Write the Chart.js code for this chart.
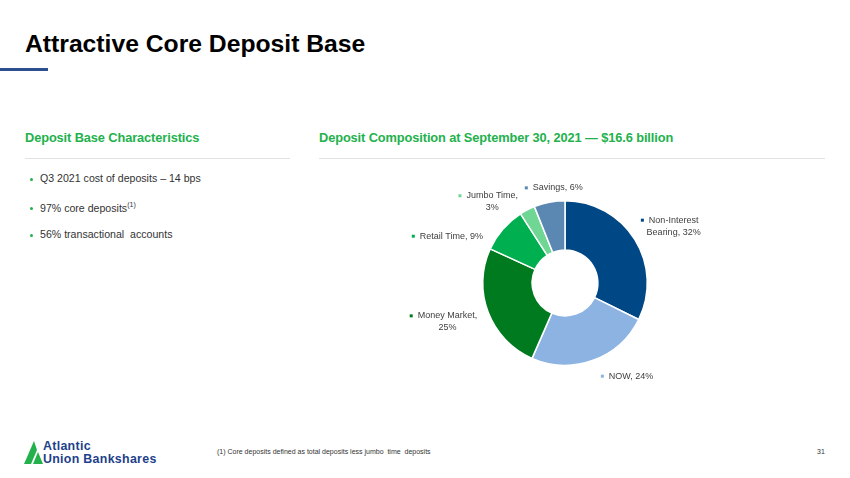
<!DOCTYPE html>
<html>
<head>
<meta charset="utf-8">
<script src="https://cdn.jsdelivr.net/npm/chart.js@4/dist/chart.umd.min.js"></script>
<style>
  html, body { margin: 0; padding: 0; background: #fff; }
  body { width: 850px; height: 478px; position: relative; overflow: hidden; font-family: "Liberation Sans", Arial, sans-serif; }
  .abs { position: absolute; white-space: nowrap; }
  .title { left: 25px; top: 30px; font-size: 24.7px; font-weight: bold; color: #000; }
  .rule-blue { left: 0; top: 68px; width: 48px; height: 3px; background: #2b4f8f; }
  .head { top: 130px; font-size: 12.8px; font-weight: bold; color: #22b14c; letter-spacing: -0.1px; }
  .sep { top: 158px; height: 1px; background: #e2e2e2; }
  .bullet { left: 40px; font-size: 10.6px; color: #333; }
  .bullet::before { content: ""; position: absolute; left: -10px; top: 6px; width: 3px; height: 3px; border-radius: 50%; background: #22b14c; }
  .bullet sup { font-size: 7px; }
  .foot { top: 448px; font-size: 7px; color: #333; }
  .logo-text { left: 43px; font-size: 12.4px; font-weight: bold; color: #1e3f8a; line-height: 11px; height: 11px; letter-spacing: 0.3px; }
  #wrap { position: absolute; left: 400px; top: 175px; width: 330px; height: 216px; }
</style>
</head>
<body>
<div class="abs title">Attractive Core Deposit Base</div>
<div class="abs rule-blue"></div>

<div class="abs head" style="left:25px">Deposit Base Characteristics</div>
<div class="abs head" style="left:319px">Deposit Composition at September 30, 2021 — $16.6 billion</div>
<div class="abs sep" style="left:25px;width:265px"></div>
<div class="abs sep" style="left:319px;width:506px"></div>

<div class="abs bullet" style="top:172px">Q3 2021 cost of deposits – 14 bps</div>
<div class="abs bullet" style="top:201px">97% core deposits<sup>(1)</sup></div>
<div class="abs bullet" style="top:228px">56% transactional&nbsp; accounts</div>

<svg class="abs" style="left:24px;top:441px" width="20" height="23" viewBox="0 0 20 23">
  <polygon points="10,0 0,23 7,23 13,9" fill="#22b14c"/>
  <polygon points="14,11 9,23 19,23" fill="#22b14c"/>
</svg>
<div class="abs logo-text" style="top:441px">Atlantic</div>
<div class="abs logo-text" style="top:454px">Union Bankshares</div>

<div class="abs foot" style="left:217px">(1) Core deposits defined as total deposits less jumbo&nbsp; time&nbsp; deposits</div>
<div class="abs foot" style="left:817px">31</div>

<div id="wrap"><canvas id="pie"></canvas></div>

<script>
// Deposit composition, Sept 30 2021 (percent of $16.6bn)
const categories = ["Non-Interest Bearing", "NOW", "Money Market", "Retail Time", "Jumbo Time", "Savings"];
const shares = [32, 24, 25, 9, 3, 6];
const sliceLabels = [
  ["Non-Interest", "Bearing, 32%"],
  ["NOW, 24%"],
  ["Money Market,", "25%"],
  ["Retail Time, 9%"],
  ["Jumbo Time,", "3%"],
  ["Savings, 6%"],
];
const palette = ["#004785", "#8db3e2", "#007a1e", "#00b050", "#6fd693", "#5b88b2"];

// label nudges from the radial anchor, px
const nudges = [[9, 5], [26, -17], [-8, -3], [-25, 30], [-19, 23], [15, 20]];

const outsideLabels = {
  id: "outsideLabels",
  afterDatasetsDraw(chart) {
    const ctx = chart.ctx;
    const arcs = chart.getDatasetMeta(0).data;
    ctx.save();
    ctx.font = "9px 'Liberation Sans', Arial, sans-serif";
    ctx.fillStyle = "#404040";
    ctx.textAlign = "center";
    ctx.textBaseline = "middle";
    const lineH = 12;
    arcs.forEach((arc, i) => {
      const mid = (arc.startAngle + arc.endAngle) / 2;
      const r = arc.outerRadius + 35;
      const cx = arc.x + Math.cos(mid) * r + nudges[i][0];
      const cy = arc.y + Math.sin(mid) * r + nudges[i][1];
      const lines = sliceLabels[i];
      const top = cy - (lines.length - 1) * lineH / 2;
      lines.forEach((t, k) => ctx.fillText(t, cx, top + k * lineH));
      const w0 = ctx.measureText(lines[0]).width;
      ctx.fillStyle = palette[i];
      ctx.fillRect(cx - w0 / 2 - 8, top - 1.5, 3, 3);
      ctx.fillStyle = "#404040";
    });
    ctx.restore();
  },
};

new Chart(document.getElementById("pie"), {
  type: "doughnut",
  data: {
    labels: categories,
    datasets: [{
      data: shares,
      backgroundColor: palette,
      borderColor: "#ffffff",
      borderWidth: 1.5,
    }],
  },
  options: {
    responsive: true,
    maintainAspectRatio: false,
    animation: false,
    cutout: "40%",
    layout: { padding: { top: 25, bottom: 25 } },
    plugins: { legend: { display: false }, tooltip: { enabled: false } },
  },
  plugins: [outsideLabels],
});
</script>
</body>
</html>
